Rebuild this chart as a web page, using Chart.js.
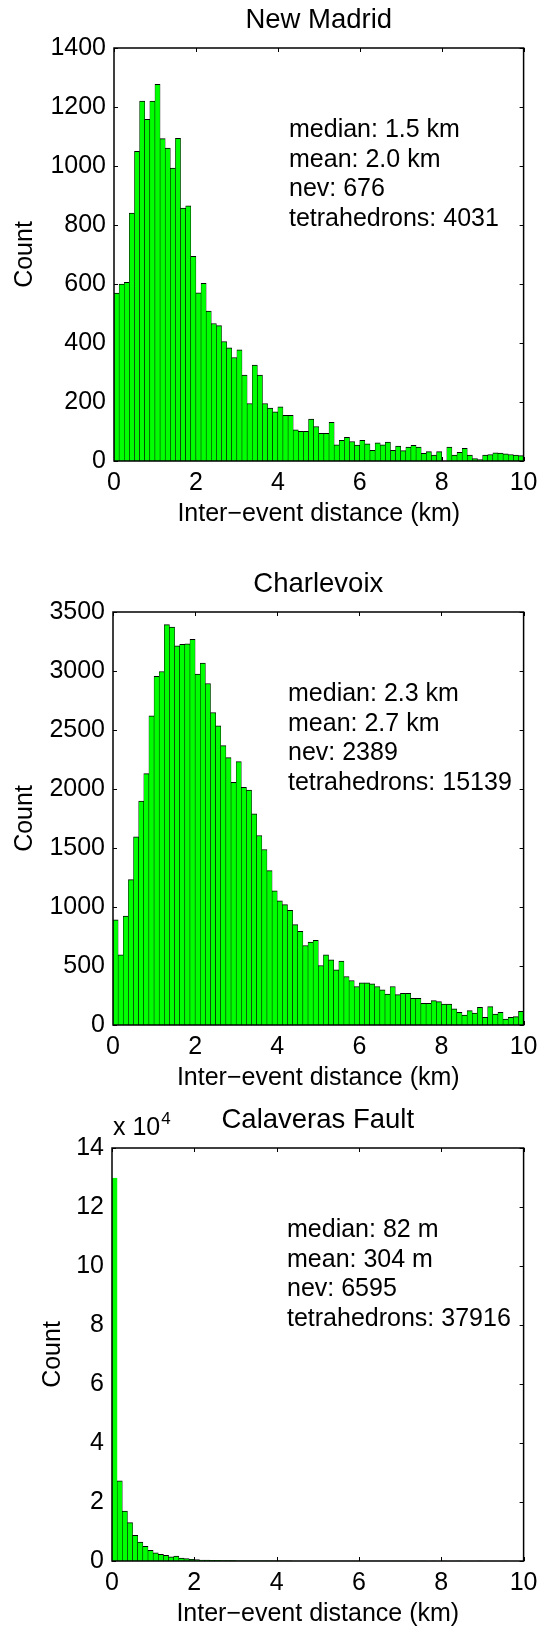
<!DOCTYPE html>
<html>
<head>
<meta charset="utf-8">
<script src="https://cdn.jsdelivr.net/npm/chart.js@4.4.1/dist/chart.umd.min.js"></script>
<style>
  html, body { margin: 0; padding: 0; background: #fff; }
  .panel { position: absolute; left: 0; width: 545px; }
</style>
</head>
<body>
<div class="panel" style="top:0;height:560px"><canvas id="madrid"></canvas></div>
<div class="panel" style="top:560px;height:540px"><canvas id="charlevoix"></canvas></div>
<div class="panel" style="top:1100px;height:529px"><canvas id="calaveras"></canvas></div>
<script>
// 80 bins of 0.125 km between 0 and 10 km
const binWidth = 0.125;
const binCenters = Array.from({ length: 80 }, (_, i) => (i + 0.5) * binWidth);
const xTickStep = 2;

const madridCounts = [
  569, 600, 606, 840, 1050, 1220, 1158, 1220, 1277, 1093,
  1061, 993, 1094, 857, 865, 694, 570, 602, 508, 466,
  459, 405, 384, 351, 377, 291, 195, 325, 291, 195,
  179, 167, 184, 155, 155, 106, 101, 101, 142, 117,
  94, 94, 131, 55, 70, 80, 66, 54, 70, 58,
  36, 62, 55, 64, 36, 51, 35, 47, 53, 47,
  26, 32, 20, 32, 0, 47, 20, 29, 43, 20,
  8, 5, 20, 22, 28, 27, 24, 22, 20, 18
];
const charlevoixCounts = [
  892, 595, 923, 1232, 1594, 1897, 2130, 2620, 2954, 2996,
  3393, 3373, 3214, 3226, 3231, 3268, 2974, 3067, 2894, 2648,
  2535, 2368, 2266, 2056, 2232, 2014, 1991, 1790, 1606, 1487,
  1308, 1136, 1053, 1020, 971, 850, 793, 674, 702, 717,
  504, 595, 552, 467, 541, 411, 377, 326, 357, 357,
  348, 326, 297, 263, 326, 258, 269, 269, 227, 227,
  184, 184, 207, 198, 178, 178, 136, 108, 85, 122,
  102, 150, 65, 156, 93, 108, 51, 65, 71, 116
];
const calaverasCounts = [
  129800, 27200, 16900, 13000, 8700, 6450, 5000, 3600, 2800, 2260,
  1900, 1400, 1700, 1000, 800, 560, 450, 340, 300, 250,
  210, 170, 150, 120, 100, 90, 80, 60, 50, 40,
  35, 30, 25, 20, 18, 15, 12, 10, 9, 8,
  7, 6, 5, 5, 4, 4, 3, 3, 3, 2,
  2, 2, 2, 1, 1, 1, 1, 1, 1, 1,
  1, 0, 1, 0, 1, 0, 0, 1, 0, 0,
  0, 1, 0, 0, 0, 0, 1, 0, 0, 0
];

const madridStats = ['median: 1.5 km', 'mean: 2.0 km', 'nev: 676', 'tetrahedrons: 4031'];
const charlevoixStats = ['median: 2.3 km', 'mean: 2.7 km', 'nev: 2389', 'tetrahedrons: 15139'];
const calaverasStats = ['median: 82 m', 'mean: 304 m', 'nev: 6595', 'tetrahedrons: 37916'];

const FONT = '"Liberation Sans", Arial, Helvetica, sans-serif';
Chart.defaults.font.family = FONT;
Chart.defaults.color = '#000';

// title, stats block, inward ticks and the box around the axes
const panelText = {
  id: 'panelText',
  beforeDatasetsDraw(chart) {
    const { ctx, chartArea: a, scales: { x, y } } = chart;
    ctx.save();
    ctx.strokeStyle = '#000';
    ctx.lineWidth = 1;
    ctx.beginPath();
    x.ticks.forEach(t => {
      const px = Math.round(x.getPixelForValue(t.value)) + 0.5;
      ctx.moveTo(px, a.top); ctx.lineTo(px, a.top + 4);
      ctx.moveTo(px, a.bottom); ctx.lineTo(px, a.bottom - 4);
    });
    y.ticks.forEach(t => {
      const py = Math.round(y.getPixelForValue(t.value)) + 0.5;
      ctx.moveTo(a.left, py); ctx.lineTo(a.left + 4, py);
      ctx.moveTo(a.right, py); ctx.lineTo(a.right - 4, py);
    });
    ctx.stroke();
    ctx.restore();
  },
  afterDatasetsDraw(chart, args, opts) {
    const { ctx, chartArea: a } = chart;
    ctx.save();
    ctx.strokeStyle = '#000';
    ctx.lineWidth = 1.5;
    ctx.strokeRect(a.left, a.top, a.right - a.left, a.bottom - a.top);

    ctx.fillStyle = '#000';
    ctx.textBaseline = 'alphabetic';
    ctx.textAlign = 'center';
    ctx.font = '27.5px ' + FONT;
    ctx.fillText(opts.title, (a.left + a.right) / 2, a.top - 20);

    ctx.textAlign = 'left';
    ctx.font = '25px ' + FONT;
    opts.lines.forEach((s, i) => ctx.fillText(s, a.left + 175, a.top + 89 + i * 29.5));

    if (opts.exponent) {
      ctx.fillText('x 10', a.left + 1, a.top - 13);
      const w = ctx.measureText('x 10').width;
      ctx.font = '17px ' + FONT;
      ctx.fillText(opts.exponent, a.left + 2 + w, a.top - 24);
    }
    ctx.restore();
  }
};

function histogram(id, counts, o) {
  const edgeColors = counts.map(() => '#000');
  if (o.firstBarPlain) edgeColors[0] = '#00ff00';
  return new Chart(document.getElementById(id), {
    type: 'bar',
    data: {
      datasets: [{
        data: binCenters.map((c, i) => ({ x: c, y: counts[i] })),
        backgroundColor: '#00ff00',
        borderColor: edgeColors,
        borderWidth: { top: 1, left: 0.55, right: 0.55, bottom: 0 },
        barPercentage: 1,
        categoryPercentage: 1
      }]
    },
    options: {
      responsive: true,
      maintainAspectRatio: false,
      animation: false,
      layout: { padding: o.padding },
      scales: {
        x: {
          type: 'linear',
          min: 0,
          max: 10,
          offset: false,
          grid: { display: false, drawTicks: false },
          border: { display: false },
          ticks: { stepSize: xTickStep, maxRotation: 0, padding: 7.5, font: { size: 25 } },
          title: {
            display: true,
            text: 'Inter\u2212event distance (km)',
            font: { size: 25 },
            padding: { top: 0, bottom: 0 }
          },
          afterFit: s => { s.height = 68; }
        },
        y: {
          min: 0,
          max: o.yMax,
          grid: { display: false, drawTicks: false },
          border: { display: false },
          ticks: {
            stepSize: o.yStep,
            padding: 8,
            font: { size: 25 },
            callback: v => o.yScale ? v / o.yScale : v
          },
          title: {
            display: true,
            text: 'Count',
            font: { size: 25 },
            padding: { top: o.yTitlePad, bottom: 0 }
          },
          afterFit: s => { s.width = o.axisLeft; }
        }
      },
      plugins: {
        legend: { display: false },
        tooltip: { enabled: false },
        panelText: { title: o.title, lines: o.lines, exponent: o.exponent }
      }
    },
    plugins: [panelText]
  });
}

histogram('madrid', madridCounts, {
  title: 'New Madrid', lines: madridStats,
  yMax: 1400, yStep: 200, axisLeft: 114, yTitlePad: 10,
  padding: { top: 48, right: 17, bottom: 31, left: 0 }
});
histogram('charlevoix', charlevoixCounts, {
  title: 'Charlevoix', lines: charlevoixStats,
  yMax: 3500, yStep: 500, axisLeft: 113, yTitlePad: 10,
  padding: { top: 52, right: 18, bottom: 7, left: 0 }
});
histogram('calaveras', calaverasCounts, {
  title: 'Calaveras Fault', lines: calaverasStats,
  yMax: 140000, yStep: 20000, yScale: 10000, exponent: '4',
  axisLeft: 112, yTitlePad: 38, firstBarPlain: true,
  padding: { top: 48, right: 18, bottom: 0, left: 0 }
});
</script>
</body>
</html>
